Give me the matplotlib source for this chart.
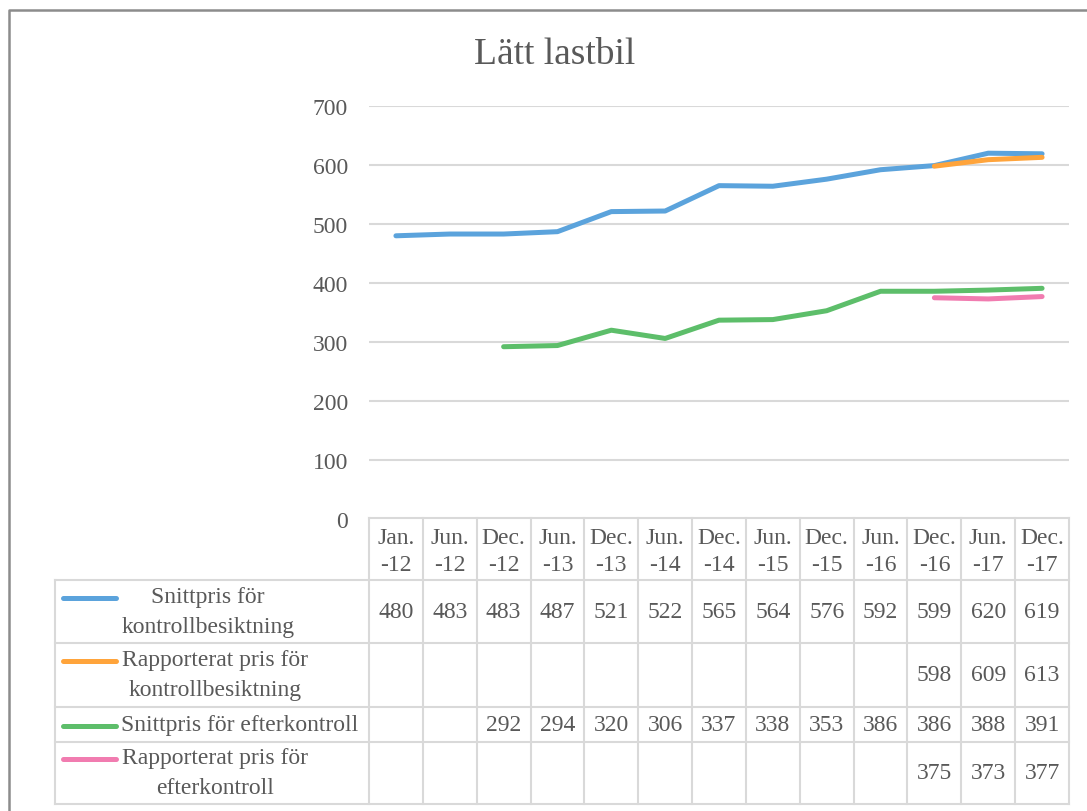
import numpy as np
import matplotlib.pyplot as plt

plt.rcParams['font.family'] = ['Liberation Serif', 'DejaVu Serif']

title = "Lätt lastbil"
months = ["Jan.", "Jun.", "Dec.", "Jun.", "Dec.", "Jun.", "Dec.", "Jun.", "Dec.", "Jun.", "Dec.", "Jun.", "Dec."]
years = ["-12", "-12", "-12", "-13", "-13", "-14", "-14", "-15", "-15", "-16", "-16", "-17", "-17"]
nan = np.nan
snitt_kontroll = [480, 483, 483, 487, 521, 522, 565, 564, 576, 592, 599, 620, 619]
rapp_kontroll = [nan] * 10 + [598, 609, 613]
snitt_efter = [nan, nan, 292, 294, 320, 306, 337, 338, 353, 386, 386, 388, 391]
rapp_efter = [nan] * 10 + [375, 373, 377]
series_names = [["Snittpris för", "kontrollbesiktning"],
                ["Rapporterat pris för", "kontrollbesiktning"],
                ["Snittpris för efterkontroll"],
                ["Rapporterat pris för", "efterkontroll"]]
series = [snitt_kontroll, rapp_kontroll, snitt_efter, rapp_efter]
colors = ["#5BA3DC", "#FFA43B", "#5DBE6A", "#F17CB0"]

txt = "#595959"
grid = "#D9D9D9"
fs = 17
W, H = 1087, 812

fig = plt.figure(figsize=(W / 100, H / 100), dpi=100)

# pixel-space layer for frame and data table
tab = fig.add_axes([0, 0, 1, 1])
tab.set_xlim(0, W)
tab.set_ylim(H, 0)
tab.axis("off")
tab.plot([9, 9, W + 5], [H + 5, 11, 11], color="#8C8C8C", lw=1.8)

x0, x1 = 369, 1069
leg_x = 55
n = len(months)
colw = (x1 - x0) / n
rows = [519, 581, 644, 708, 743, 805]

# horizontal table lines
tab.plot([x0, x1], [rows[0], rows[0]], color=grid, lw=1.5)
for y in rows[1:]:
    tab.plot([leg_x, x1], [y, y], color=grid, lw=1.5)
# vertical table lines
tab.plot([leg_x, leg_x], [rows[1], rows[-1]], color=grid, lw=1.5)
for i in range(n + 1):
    x = x0 + i * colw
    tab.plot([x, x], [rows[0], rows[-1]], color=grid, lw=1.5)

for i in range(n):
    cx = x0 + (i + 0.5) * colw
    tab.text(cx, 539, months[i], ha="center", va="center", fontsize=fs, color=txt)
    tab.text(cx, 566, years[i], ha="center", va="center", fontsize=fs, color=txt)

label_cx = [208, 215, 240, 215]
for r, (vals, names, c) in enumerate(zip(series, series_names, colors)):
    yc = (rows[r + 1] + rows[r + 2]) / 2
    for i, v in enumerate(vals):
        if not np.isnan(v):
            tab.text(x0 + (i + 0.5) * colw, yc, f"{v:.0f}", ha="center", va="center",
                     fontsize=fs, color=txt)
    if len(names) == 2:
        ys = [yc - 15, yc + 15]
    else:
        ys = [yc]
    tab.plot([63, 116], [ys[0] + 1, ys[0] + 1], color=c, lw=3.6, solid_capstyle="round")
    for name, y in zip(names, ys):
        tab.text(label_cx[r], y, name, ha="center", va="center", fontsize=fs, color=txt)

fig.text(555 / W, 1 - 55 / H, title, ha="center", va="center", fontsize=27, color=txt)

# line chart
ax = fig.add_axes([x0 / W, 1 - 520 / H, (x1 - x0) / W, 413 / H])
ax.patch.set_alpha(0)
xs = np.arange(n)
for vals, c in zip(series, colors):
    ax.plot(xs, vals, color=c, lw=3.6, solid_capstyle="round", solid_joinstyle="round")
ax.set_xlim(-0.5, n - 0.5)
ax.set_ylim(0, 700)
ax.set_yticks(range(0, 701, 100))
ax.set_xticks([])
ax.tick_params(axis="y", length=0, pad=15, labelsize=fs, labelcolor=txt)
ax.grid(axis="y", color=grid, lw=1.5)
ax.set_axisbelow(True)
for s in ax.spines.values():
    s.set_visible(False)

fig.savefig("out.png", dpi=100)
